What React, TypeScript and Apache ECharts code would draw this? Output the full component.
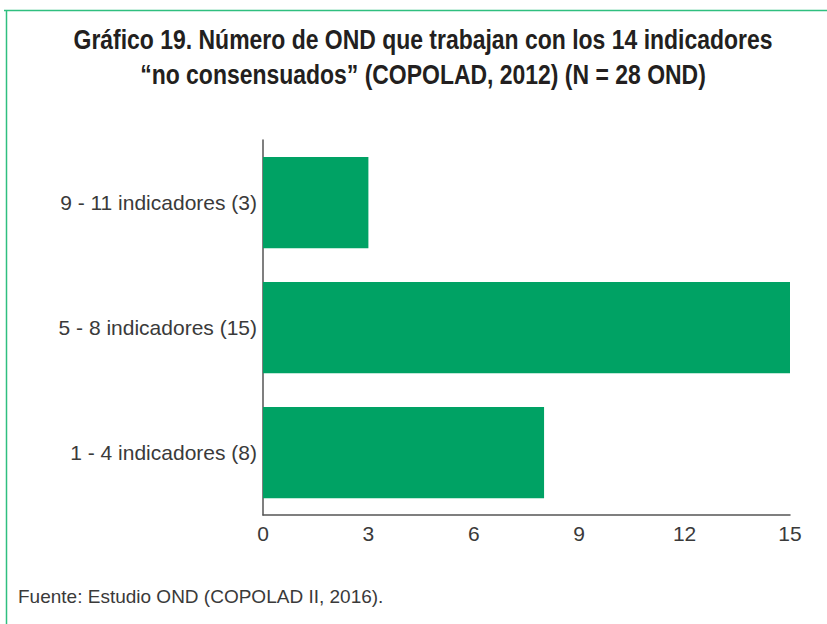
import React, { useEffect, useRef } from "react";
import * as echarts from "echarts";

const categories = ["1 - 4 indicadores (8)", "5 - 8 indicadores (15)", "9 - 11 indicadores (3)"];
const values = [8, 15, 3];
const xTicks = [0, 3, 6, 9, 12, 15];
const titleLines = [
  "Gráfico 19. Número de OND que trabajan con los 14 indicadores",
  "“no consensuados” (COPOLAD, 2012) (N = 28 OND)",
];
const sourceText = "Fuente: Estudio OND (COPOLAD II, 2016).";

export default function App() {
  const ref = useRef<HTMLDivElement>(null);
  useEffect(() => {
    if (!ref.current) return;
    const chart = echarts.init(ref.current, null, { renderer: "svg" });
    const titleStyle = {
      fontFamily: "Liberation Sans",
      fontWeight: "bold",
      fontSize: 28,
      fill: "#231f20",
      align: "center",
      verticalAlign: "middle",
    };
    chart.setOption({
      animation: false,
      backgroundColor: "#ffffff",
      grid: { left: 263, right: 37, top: 140, bottom: 109, containLabel: false },
      xAxis: {
        type: "value",
        min: xTicks[0],
        max: xTicks[xTicks.length - 1],
        interval: 3,
        splitLine: { show: false },
        axisTick: { show: false },
        axisLine: { show: true, lineStyle: { color: "#555", width: 1.5 } },
        axisLabel: {
          color: "#3a3a3a",
          fontFamily: "Liberation Sans",
          fontSize: 21,
          margin: 8,
        },
      },
      yAxis: {
        type: "category",
        data: categories,
        axisTick: { show: false },
        axisLine: { show: true, lineStyle: { color: "#555", width: 1.5 } },
        axisLabel: {
          color: "#3a3a3a",
          fontFamily: "Liberation Sans",
          fontSize: 21,
          margin: 6,
        },
      },
      series: [
        {
          type: "bar",
          data: values,
          barWidth: "73%",
          itemStyle: { color: "#00a264" },
        },
      ],
      graphic: [
        {
          type: "line",
          shape: { x1: 4, y1: 10.5, x2: 827, y2: 10.5 },
          style: { stroke: "#2fbf7f", lineWidth: 1.5 },
        },
        {
          type: "line",
          shape: { x1: 6.5, y1: 10, x2: 6.5, y2: 624 },
          style: { stroke: "#2fbf7f", lineWidth: 1.5 },
        },
        {
          type: "text",
          x: 423,
          y: 39,
          scaleX: 0.82,
          style: { ...titleStyle, text: titleLines[0] },
        },
        {
          type: "text",
          x: 423,
          y: 74,
          scaleX: 0.82,
          style: { ...titleStyle, text: titleLines[1] },
        },
        {
          type: "text",
          x: 18,
          y: 596,
          style: {
            text: sourceText,
            fontFamily: "Liberation Sans",
            fontSize: 19,
            fill: "#3a3a3a",
            verticalAlign: "middle",
          },
        },
      ],
    });
    return () => chart.dispose();
  }, []);
  return (
    <div
      ref={ref}
      style={{ position: "fixed", left: 0, top: 0, width: 827, height: 624 }}
    />
  );
}
